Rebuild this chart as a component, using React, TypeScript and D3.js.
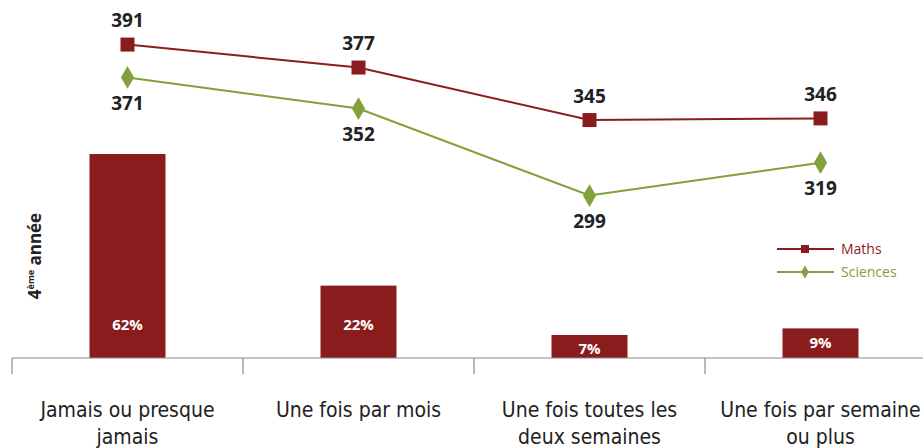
import * as d3 from 'd3'

const categories = [
  ['Jamais ou presque', 'jamais'],
  ['Une fois par mois'],
  ['Une fois toutes les', 'deux semaines'],
  ['Une fois par semaine', 'ou plus'],
]
const shares = [62, 22, 7, 9]
const maths = [391, 377, 345, 346]
const sciences = [371, 352, 299, 319]

const MAROON = '#8b1c1d'
const GREEN = '#82a03c'

const App = () => {
  const width = 923
  const height = 448
  const baseY = 358

  const x = d3
    .scaleBand<number>()
    .domain(d3.range(categories.length))
    .range([12, 12 + 231 * 4])
    .paddingInner(0)
  const cx = (i: number) => (x(i) as number) + x.bandwidth() / 2

  const yBar = d3.scaleLinear().domain([0, 62]).range([baseY, 154])
  const yLine = d3.scaleLinear().domain([200, 400]).range([baseY, 29.8])

  const line = d3
    .line<number>()
    .x((_, i) => cx(i))
    .y((d) => yLine(d))

  const diamond = d3.symbol(d3.symbolDiamond, 150)()
  const num = { fontFamily: 'Open Sans', fontWeight: 700, fontSize: 19, fill: '#222' }

  return (
    <svg
      width={width}
      height={height}
      style={{ position: 'absolute', left: 0, top: 0, background: '#fff' }}
    >
      {/* bars */}
      {shares.map((s, i) => {
        const top = yBar(s)
        const ly = Math.max(325, top + 14)
        return (
          <g key={'b' + i}>
            <rect x={cx(i) - 38} y={top} width={76} height={baseY - top} fill={MAROON} />
            <text
              x={cx(i)}
              y={ly}
              dy="0.35em"
              textAnchor="middle"
              fill="#fff"
              style={{ fontFamily: 'Open Sans', fontWeight: 700, fontSize: 15 }}
            >
              {s}%
            </text>
          </g>
        )
      })}

      {/* axis */}
      <line x1={12} x2={width} y1={baseY} y2={baseY} stroke="#8a8a8a" strokeWidth={1.2} />
      {categories.map((_, i) => (
        <line
          key={'t' + i}
          x1={x(i) as number}
          x2={x(i) as number}
          y1={baseY}
          y2={baseY + 16}
          stroke="#8a8a8a"
          strokeWidth={1.2}
        />
      ))}
      {categories.map((lines, i) => (
        <text
          key={'c' + i}
          x={cx(i)}
          textAnchor="middle"
          fill="#222"
          style={{ fontFamily: "'DejaVu Sans Condensed'", fontSize: 21 }}
        >
          {lines.map((l, j) => (
            <tspan key={j} x={cx(i)} y={417 + j * 27}>
              {l}
            </tspan>
          ))}
        </text>
      ))}

      {/* lines */}
      <path d={line(sciences) as string} fill="none" stroke={GREEN} strokeWidth={2} />
      <path d={line(maths) as string} fill="none" stroke={MAROON} strokeWidth={2} />
      {sciences.map((v, i) => (
        <g key={'s' + i}>
          <path d={diamond as string} transform={`translate(${cx(i)},${yLine(v)})`} fill={GREEN} />
          <text x={cx(i)} y={yLine(v) + 26} dy="0.35em" textAnchor="middle" style={num}>
            {v}
          </text>
        </g>
      ))}
      {maths.map((v, i) => (
        <g key={'m' + i}>
          <rect x={cx(i) - 7} y={yLine(v) - 7} width={14} height={14} fill={MAROON} />
          <text x={cx(i)} y={yLine(v) - 24} dy="0.35em" textAnchor="middle" style={num}>
            {v}
          </text>
        </g>
      ))}

      {/* legend */}
      <line x1={777} x2={834} y1={249} y2={249} stroke={MAROON} strokeWidth={2} />
      <rect x={801} y={245} width={8} height={8} fill={MAROON} />
      <text x={841} y={249} dy="0.35em" fill={MAROON} style={{ fontFamily: 'Open Sans', fontSize: 14 }}>
        Maths
      </text>
      <line x1={777} x2={834} y1={272} y2={272} stroke={GREEN} strokeWidth={2} />
      <path d={d3.symbol(d3.symbolDiamond, 50)() as string} transform="translate(805,272)" fill={GREEN} />
      <text x={841} y={272} dy="0.35em" fill={GREEN} style={{ fontFamily: 'Open Sans', fontSize: 14 }}>
        Sciences
      </text>

      {/* y label */}
      <text
        transform="translate(41,256) rotate(-90)"
        textAnchor="middle"
        fill="#222"
        style={{ fontFamily: 'Open Sans', fontWeight: 700, fontSize: 17 }}
      >
        4
        <tspan fontSize={9} dy={-7}>
          ème
        </tspan>
        <tspan dy={7}> année</tspan>
      </text>
    </svg>
  )
}

export default App
